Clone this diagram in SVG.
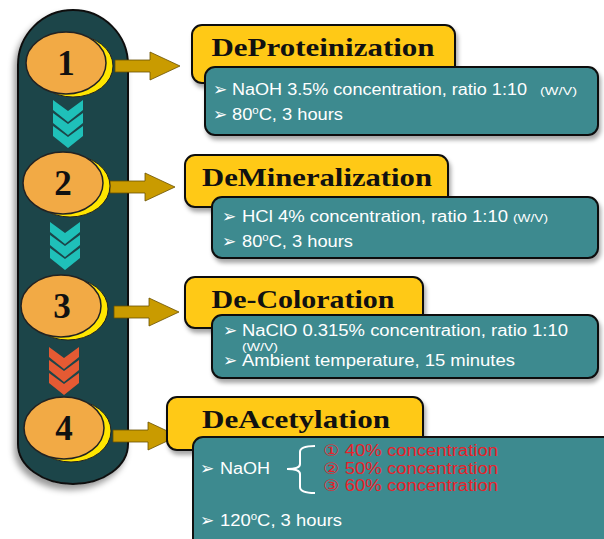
<svg xmlns="http://www.w3.org/2000/svg" width="604" height="539" viewBox="0 0 604 539">
<defs>
<filter id="sh" x="-20%" y="-20%" width="140%" height="150%"><feDropShadow dx="2" dy="4" stdDeviation="2" flood-color="#000" flood-opacity="0.35"/></filter>
<filter id="shl" x="-20%" y="-10%" width="140%" height="120%"><feDropShadow dx="-3" dy="5" stdDeviation="3" flood-color="#000" flood-opacity="0.4"/></filter>
<polygon id="chev" points="0,0 15,11 30,0 30,10 15,22 0,10"/>
<path id="arr" d="M0,-6 H35 V-14 L65,0 L35,14 V6 H0 Z"/>
</defs>
<style>
.title{font-family:"Liberation Serif","DejaVu Serif",serif;font-weight:bold;font-size:26px;fill:#111;text-anchor:middle}
.num{font-family:"Liberation Serif","DejaVu Serif",serif;font-weight:bold;font-size:35px;fill:#111;text-anchor:middle}
.body{font-family:"Liberation Sans","DejaVu Sans",sans-serif;font-size:16px;fill:#fff}
.sm{font-family:"Liberation Sans","DejaVu Sans",sans-serif;font-size:11px;fill:#fff}
.bul{font-family:"DejaVu Sans",sans-serif;font-size:17px;fill:#fff}
.red{font-family:"Liberation Sans","DejaVu Sans",sans-serif;font-size:16px;fill:#e8222a}
.yb{fill:#ffc916;stroke:#111;stroke-width:2}
.tb{fill:#3d8a8f;stroke:#111;stroke-width:2}
.ora{fill:#f2aa45;stroke:#222;stroke-width:1.5}
.cre{fill:#ffe600;stroke:#222;stroke-width:1}
.arrow{fill:#c99b00;stroke:#6b5200;stroke-width:0.8}
</style>
<rect width="604" height="539" fill="#fff"/>
<g id="pill">
<path d="M18,65 A55,55 0 0 1 128,65 V444 A55,40 0 0 1 18,444 Z" fill="#1f4549" stroke="#111" stroke-width="2" filter="url(#shl)"/>
<g fill="#1fc0b9">
<use href="#chev" x="53" y="100"/><use href="#chev" x="53" y="113"/><use href="#chev" x="53" y="126"/>
<use href="#chev" x="50" y="222"/><use href="#chev" x="50" y="235"/><use href="#chev" x="50" y="248"/>
</g>
<g fill="#e55a33">
<use href="#chev" x="49" y="347"/><use href="#chev" x="49" y="360"/><use href="#chev" x="49" y="373"/>
</g>
</g>
<g id="connectors">
<use href="#arr" x="115" y="66" class="arrow"/>
<use href="#arr" x="110" y="187" class="arrow"/>
<use href="#arr" x="114" y="312" class="arrow"/>
<use href="#arr" x="113" y="436" class="arrow"/>
</g>
<g id="n1">
<ellipse cx="73" cy="66" rx="40" ry="31" class="cre"/>
<ellipse cx="66" cy="63" rx="40" ry="31" class="ora"/>
<text x="66" y="75" class="num">1</text>
</g>
<g id="n2">
<ellipse cx="70" cy="186" rx="40" ry="31" class="cre"/>
<ellipse cx="63" cy="183" rx="40" ry="31" class="ora"/>
<text x="63" y="195" class="num">2</text>
</g>
<g id="n3">
<ellipse cx="68" cy="309" rx="40" ry="31" class="cre"/>
<ellipse cx="61" cy="306" rx="40" ry="31" class="ora"/>
<text x="62" y="318" class="num">3</text>
</g>
<g id="n4">
<ellipse cx="71" cy="431" rx="40" ry="31" class="cre"/>
<ellipse cx="64" cy="428" rx="40" ry="31" class="ora"/>
<text x="64" y="440" class="num">4</text>
</g>
<g id="b1">
<rect x="192" y="25" width="263" height="58" rx="10" class="yb" filter="url(#sh)"/>
<text x="323" y="56" class="title" textLength="223" lengthAdjust="spacingAndGlyphs">DeProteinization</text>
<rect x="205" y="67" width="393" height="68" rx="10" class="tb" filter="url(#sh)"/>
<text x="213" y="95" class="bul">➢</text>
<text x="232" y="95" class="body" textLength="295" lengthAdjust="spacingAndGlyphs">NaOH 3.5% concentration, ratio 1:10</text>
<text x="540" y="95" class="sm" textLength="37" lengthAdjust="spacingAndGlyphs">(W/V)</text>
<text x="213" y="120" class="bul">➢</text>
<text x="232" y="120" class="body" textLength="111" lengthAdjust="spacingAndGlyphs">80<tspan font-size="10" dy="-6">o</tspan><tspan dy="6">C, 3 hours</tspan></text>
</g>
<g id="b2">
<rect x="185" y="155" width="263" height="52" rx="10" class="yb" filter="url(#sh)"/>
<text x="317" y="186" class="title" textLength="230" lengthAdjust="spacingAndGlyphs">DeMineralization</text>
<rect x="212" y="197" width="386" height="61" rx="10" class="tb" filter="url(#sh)"/>
<text x="222" y="222" class="bul">➢</text>
<text x="242" y="222" class="body" textLength="266" lengthAdjust="spacingAndGlyphs">HCl 4% concentration, ratio 1:10</text>
<text x="513" y="222" class="sm" textLength="35" lengthAdjust="spacingAndGlyphs">(W/V)</text>
<text x="222" y="247" class="bul">➢</text>
<text x="242" y="247" class="body" textLength="111" lengthAdjust="spacingAndGlyphs">80<tspan font-size="10" dy="-6">o</tspan><tspan dy="6">C, 3 hours</tspan></text>
</g>
<g id="b3">
<rect x="185" y="277" width="238" height="51" rx="10" class="yb" filter="url(#sh)"/>
<text x="303" y="308" class="title" textLength="183" lengthAdjust="spacingAndGlyphs">De-Coloration</text>
<rect x="212" y="315" width="386" height="63" rx="10" class="tb" filter="url(#sh)"/>
<text x="223" y="336" class="bul">➢</text>
<text x="242" y="336" class="body" textLength="326" lengthAdjust="spacingAndGlyphs">NaClO 0.315% concentration, ratio 1:10</text>
<text x="242" y="351" class="sm" textLength="36" lengthAdjust="spacingAndGlyphs">(W/V)</text>
<text x="223" y="366" class="bul">➢</text>
<text x="242" y="366" class="body" textLength="273" lengthAdjust="spacingAndGlyphs">Ambient temperature, 15 minutes</text>
</g>
<g id="b4">
<rect x="167" y="397" width="256" height="53" rx="10" class="yb" filter="url(#sh)"/>
<text x="296" y="428" class="title" textLength="188" lengthAdjust="spacingAndGlyphs">DeAcetylation</text>
<rect x="193" y="437" width="425" height="115" rx="10" class="tb"/>
<text x="200" y="474" class="bul">➢</text>
<text x="220" y="474" class="body" textLength="50" lengthAdjust="spacingAndGlyphs">NaOH</text>
<path d="M315,446 Q300,446 300,452 V464 Q300,469 287,469 Q300,469 300,474 V487 Q300,493 315,493" fill="none" stroke="#fff" stroke-width="2"/>
<text x="323" y="456" class="red" textLength="175" lengthAdjust="spacingAndGlyphs">① 40% concentration</text>
<text x="323" y="474" class="red" textLength="175" lengthAdjust="spacingAndGlyphs">② 50% concentration</text>
<text x="323" y="491" class="red" textLength="175" lengthAdjust="spacingAndGlyphs">③ 60% concentration</text>
<text x="200" y="526" class="bul">➢</text>
<text x="220" y="526" class="body" textLength="122" lengthAdjust="spacingAndGlyphs">120<tspan font-size="10" dy="-6">o</tspan><tspan dy="6">C, 3 hours</tspan></text>
</g>
</svg>
